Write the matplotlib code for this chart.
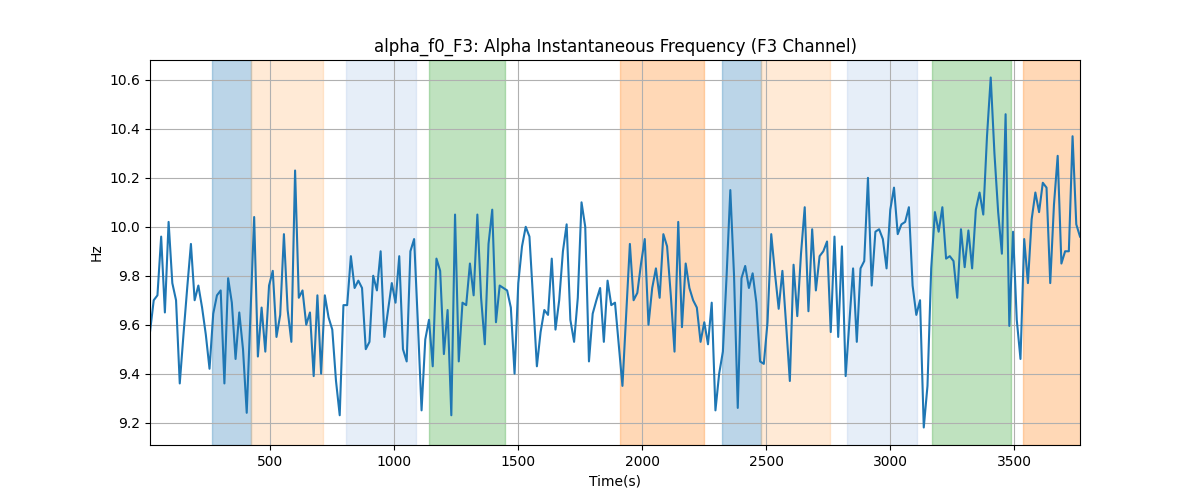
import numpy as np
import matplotlib
matplotlib.use("Agg")
import matplotlib.pyplot as plt

# sample times (s): one sample every 15 s
t0 = 16
dt = 15

# instantaneous frequency (Hz)
freq = [
    9.57, 9.70, 9.72, 9.96, 9.65, 10.02, 9.77, 9.70, 9.36, 9.56, 9.75, 9.93, 9.70, 9.76,
    9.67, 9.56, 9.42, 9.645, 9.72, 9.74, 9.36, 9.79, 9.69, 9.46, 9.65, 9.50, 9.24, 9.64,
    10.04, 9.47, 9.67, 9.49, 9.76, 9.82, 9.55, 9.64, 9.97, 9.66, 9.53, 10.23, 9.71, 9.74,
    9.60, 9.65, 9.39, 9.72, 9.40, 9.72, 9.63, 9.58, 9.37, 9.23, 9.68, 9.68, 9.88, 9.75,
    9.78, 9.75, 9.50, 9.53, 9.80, 9.74, 9.90, 9.55, 9.66, 9.77, 9.69, 9.88, 9.50, 9.45,
    9.90, 9.95, 9.61, 9.25, 9.54, 9.62, 9.43, 9.87, 9.82, 9.48, 9.66, 9.23, 10.05, 9.45,
    9.69, 9.68, 9.85, 9.72, 10.05, 9.71, 9.52, 9.93, 10.07, 9.61, 9.76, 9.75, 9.74, 9.67,
    9.40, 9.77, 9.92, 10.00, 9.96, 9.70, 9.43, 9.57, 9.66, 9.64, 9.87, 9.58, 9.70, 9.90,
    10.01, 9.62, 9.53, 9.71, 10.10, 10.00, 9.45, 9.645, 9.70, 9.75, 9.53, 9.78, 9.68, 9.69,
    9.52, 9.35, 9.64, 9.93, 9.70, 9.73, 9.85, 9.95, 9.60, 9.75, 9.83, 9.71, 9.97, 9.92,
    9.72, 9.49, 10.02, 9.59, 9.85, 9.75, 9.70, 9.67, 9.53, 9.61, 9.52, 9.69, 9.25, 9.40,
    9.49, 9.80, 10.15, 9.80, 9.26, 9.79, 9.84, 9.75, 9.81, 9.69, 9.45, 9.44, 9.61,
    9.97, 9.81, 9.665, 9.82, 9.60, 9.37, 9.845, 9.635, 9.89, 10.08, 9.655, 9.99, 9.74, 9.88,
    9.90, 9.94, 9.57, 9.96, 9.55, 9.92, 9.39, 9.61, 9.83, 9.53, 9.83, 9.86, 10.20, 9.76,
    9.98, 9.99, 9.95, 9.83, 10.07, 10.16, 9.97, 10.01, 10.02, 10.08, 9.76, 9.64, 9.70, 9.18,
    9.35, 9.83, 10.06, 9.98, 10.08, 9.87, 9.88, 9.86, 9.71, 9.99, 9.835, 9.985, 9.83, 10.07,
    10.14, 10.05, 10.37, 10.61, 10.30, 10.06, 9.89, 10.46, 9.595, 9.98, 9.62, 9.46, 9.95, 9.77,
    10.03, 10.14, 10.06, 10.18, 10.16, 9.77, 10.09, 10.29, 9.85, 9.90, 9.90, 10.37, 10.01, 9.96,
]
t = t0 + dt * np.arange(len(freq))

# shaded segments (start, end) and their tab20 colour index
seg_start = [267, 422, 806, 1141, 1911, 2323, 2479, 2827, 3169, 3536]
seg_end = [422, 712, 1087, 1446, 2249, 2479, 2757, 3109, 3487, 3800]
seg_cidx = [0, 3, 1, 4, 2, 0, 3, 1, 4, 2]

tab20 = plt.get_cmap("tab20").colors
seg_palette = [tab20[0], tab20[1], tab20[2], tab20[3], tab20[4]]

fig, ax = plt.subplots(figsize=(12, 5), dpi=100)

for s, e, ci in zip(seg_start, seg_end, seg_cidx):
    ax.axvspan(s, e, color=seg_palette[ci], alpha=0.3)

ax.plot(t, freq, color="tab:blue", linewidth=1.5)
ax.set_xlim(t[0], t[-1])
ax.set_title("alpha_f0_F3: Alpha Instantaneous Frequency (F3 Channel)")
ax.set_xlabel("Time(s)")
ax.set_ylabel("Hz")
ax.grid(True)

fig.savefig("out.png")
